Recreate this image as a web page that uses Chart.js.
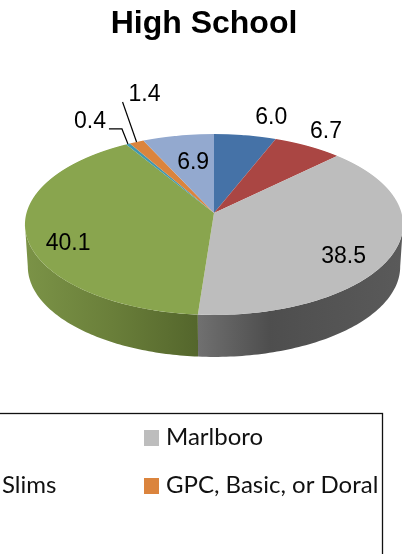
<!DOCTYPE html>
<html>
<head>
<meta charset="utf-8">
<title>High School</title>
<script src="https://cdn.jsdelivr.net/npm/chart.js@4"></script>
<style>
  html, body { margin: 0; padding: 0; background: #fff; overflow: hidden; }
  #chart { display: block; }
</style>
</head>
<body>
<canvas id="chart" width="402" height="554"></canvas>
<script>
// Blank names belong to legend entries that are cut off in the picture
const categories = ["", "", "Marlboro", "Slims", "", "GPC, Basic, or Doral", ""];
const shares = [6.0, 6.7, 38.5, 40.1, 0.4, 1.4, 6.9];
const shareLabels = ["6.0", "6.7", "38.5", "40.1", "0.4", "1.4", "6.9"];

const topColors = ["#4572a7", "#aa4643", "#bdbdbd", "#89a54e", "#4198af", "#db843d", "#93a9cf"];
// side wall gradient, only the two front slices ever show
const wallColors = {
  2: [[0, "#707070"], [0.35, "#4e4e4e"], [1, "#5a5a5a"]],
  3: [[0, "#7b9347"], [0.5, "#6a7f3a"], [1, "#54662c"]]
};

// where the tilted pie sits on the page
const apexX = 214, apexY = 213;
const pieRadius = 187.5;
const tilt = 0.127;      // perspective strength
const squash = 89;       // vertical half size at the apex row
const wallDepth = 42;
const wallNarrow = 0.985;

// label text offset from the slice's rim point
const labelNudges = [[26, -18], [18, -14], [-50, 4], [42, 9], [-38, -22], [8, -47], [15, 27]];
// leader lines, also relative to the rim point
const leaders = { 4: [[0, 0], [-6, -15], [-19, -15]], 5: [[0, 0], [-14, -40]] };
const legendSpots = { 2: [166, 445], 3: [2, 493], 5: [166, 493] };

// angle is clockwise from 12 o'clock
function project(angle) {
  const s = Math.sin(angle), c = Math.cos(angle);
  const w = 1 + tilt * c;
  return [apexX + pieRadius * s / w, apexY - squash * c / w];
}

const tiltedPie = {
  id: "tiltedPie",
  beforeDatasetDraw(chart, args) {
    const ctx = chart.ctx;
    const arcs = args.meta.data;
    const cx = arcs[0].x, cy = arcs[0].y;

    // side wall first, the top face covers its upper edge
    const wallFrom = Math.acos(-tilt), wallTo = 2 * Math.PI - wallFrom;
    arcs.forEach((arc, i) => {
      const from = Math.max(arc.startAngle + Math.PI / 2, wallFrom);
      const to = Math.min(arc.endAngle + Math.PI / 2, wallTo);
      if (from >= to) return;
      const rim = [];
      for (let k = 0; k <= 80; k++) rim.push(project(from + (to - from) * k / 80));
      const under = rim.map(p => [apexX + (p[0] - apexX) * wallNarrow, p[1] + wallDepth]).reverse();
      const xs = rim.map(p => p[0]);
      const left = Math.min(...xs), right = Math.max(...xs);
      const grad = ctx.createLinearGradient(i === 2 ? right : left, 0, i === 2 ? left : right, 0);
      const stops = i === 2 ? wallColors[2].map(s => [1 - s[0], s[1]]) : wallColors[i];
      stops.forEach(s => grad.addColorStop(s[0], s[1]));
      ctx.beginPath();
      rim.concat(under).forEach((p, k) => k ? ctx.lineTo(p[0], p[1]) : ctx.moveTo(p[0], p[1]));
      ctx.closePath();
      ctx.fillStyle = grad;
      ctx.fill();
    });

    // top face: let Chart.js draw the arcs once per pixel row, each with that row's scale
    for (let row = 128; row < 322; row++) {
      const t = row + 0.5 - apexY;
      const q = t / (squash + tilt * t);
      const w = 1 - tilt * q;
      const sx = 1 / w;
      const sy = squash / (w * w * pieRadius);
      ctx.save();
      ctx.beginPath();
      ctx.rect(0, row, chart.width, 1);
      ctx.clip();
      ctx.setTransform(sx, 0, 0, sy, apexX - cx * sx, row + 0.5 - sy * (cy + q * pieRadius));
      args.meta.controller.draw();
      ctx.restore();
    }
    return false;
  },
  afterDraw(chart) {
    const ctx = chart.ctx;
    const arcs = chart.getDatasetMeta(0).data;

    ctx.strokeStyle = "#000";
    ctx.lineWidth = 1.2;
    ctx.lineJoin = "miter";
    ctx.fillStyle = "#000";
    ctx.font = "23px 'Liberation Sans'";
    ctx.textAlign = "center";
    ctx.textBaseline = "middle";
    arcs.forEach((arc, i) => {
      const mid = (arc.startAngle + arc.endAngle) / 2 + Math.PI / 2;
      const rim = project(mid);
      if (leaders[i]) {
        ctx.beginPath();
        leaders[i].forEach((d, k) => {
          if (k) ctx.lineTo(rim[0] + d[0], rim[1] + d[1]);
          else ctx.moveTo(rim[0] + d[0], rim[1] + d[1]);
        });
        ctx.stroke();
      }
      ctx.fillText(shareLabels[i], rim[0] + labelNudges[i][0], rim[1] + labelNudges[i][1]);
    });

    // legend frame runs off the left and bottom of the picture
    ctx.strokeStyle = "#111";
    ctx.lineWidth = 1.3;
    ctx.strokeRect(-10, 413.5, 392.5, 200);

    ctx.font = "24px Lato";
    ctx.textAlign = "left";
    ctx.textBaseline = "alphabetic";
    chart.legend.legendItems.forEach(item => {
      const spot = legendSpots[item.index];
      ctx.fillStyle = item.fillStyle;
      ctx.fillRect(spot[0] - 22, spot[1] - 15, 15, 16);
      ctx.fillStyle = "#111";
      ctx.fillText(item.text, spot[0], spot[1]);
    });
  }
};

new Chart(document.getElementById("chart"), {
  type: "pie",
  data: {
    labels: categories,
    datasets: [{
      data: shares,
      backgroundColor: topColors,
      borderWidth: 0,
      radius: pieRadius
    }]
  },
  options: {
    responsive: false,
    animation: false,
    layout: { padding: { left: 6 } },
    plugins: {
      legend: { display: false, labels: { filter: item => item.text !== "" } },
      tooltip: { enabled: false },
      title: {
        display: true,
        text: "High School",
        color: "#000",
        padding: { top: 5, bottom: 10 },
        font: { family: "'Liberation Sans'", size: 32, weight: "bold", lineHeight: 1.2 }
      }
    }
  },
  plugins: [tiltedPie]
});
</script>
</body>
</html>
